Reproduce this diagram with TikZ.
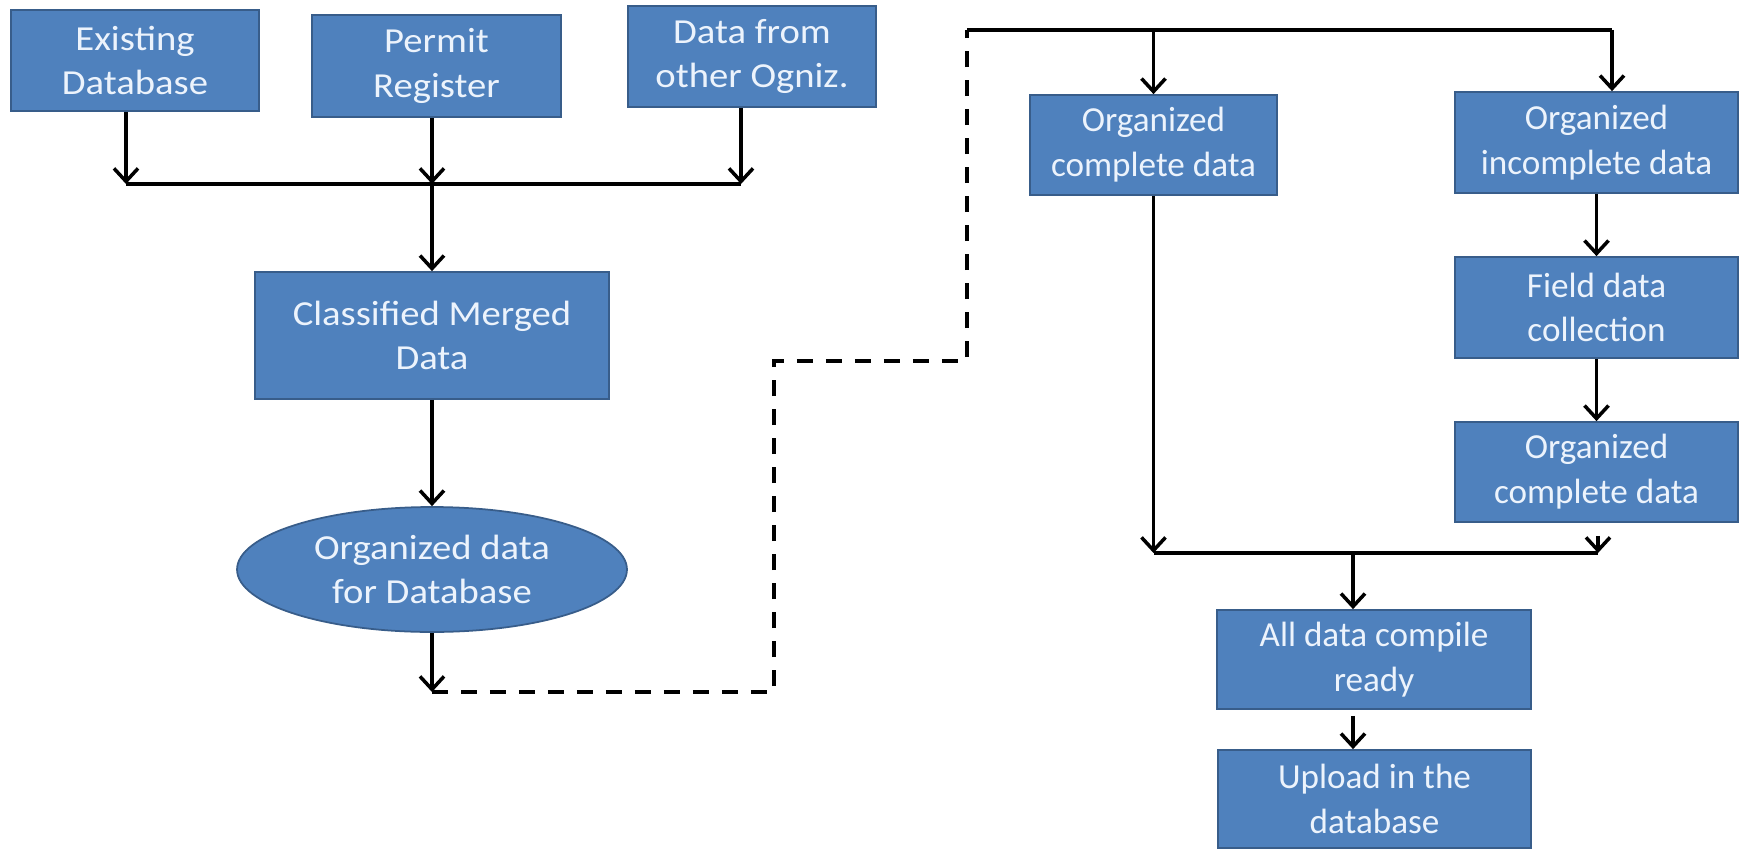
\documentclass[tikz,border=0pt]{standalone}
\usepackage{fontspec}
\setmainfont{Carlito}
\newfontfamily\widefont[FakeStretch=1.1]{Carlito}
\usetikzlibrary{shapes.geometric,arrows.meta}
\definecolor{boxblue}{RGB}{79,129,189}
\definecolor{boxedge}{RGB}{56,93,138}
\definecolor{boxtext}{RGB}{236,243,252}
\begin{document}
\begin{tikzpicture}
[x=0.02cm,y=-0.02cm,line width=2pt,
 block/.style={rectangle,fill=boxblue,draw=boxedge,line width=1pt,text=boxtext,
   align=center,inner sep=0pt,font=\fontsize{20}{25.5}\selectfont},
 wideblock/.style={block,font=\widefont\fontsize{20}{25.5}\selectfont},
 oval/.style={wideblock,ellipse},
 arr/.style={-{Straight Barb[length=2.6mm,width=4.8mm]}},
 dashline/.style={dash pattern=on 0.32cm off 0.26cm}]
\useasboundingbox (0,0) rectangle (1743,848);
% sources
\node[wideblock,minimum width=4.96cm,minimum height=2.02cm] (exist) at (135,60.5) {Existing\\Database};
\node[wideblock,minimum width=4.98cm,minimum height=2.04cm] (permit) at (436.5,66) {Permit\\Register};
\node[wideblock,minimum width=4.96cm,minimum height=2.02cm] (other) at (752,56.5) {Data from\\other Ogniz.};
\node[wideblock,minimum width=7.08cm,minimum height=2.54cm] (classif) at (432,335.5) {Classified Merged\\Data};
\node[oval,minimum width=7.8cm,minimum height=2.5cm] (orgdb) at (432,569.5) {Organized data\\for Database};
% right part
\node[block,minimum width=4.94cm,minimum height=2cm] (complete) at (1153.5,145) {Organized\\complete data};
\node[block,minimum width=5.66cm,minimum height=2.02cm] (incomplete) at (1596.5,142.5) {Organized\\incomplete data};
\node[block,minimum width=5.66cm,minimum height=2.02cm] (field) at (1596.5,307.5) {Field data\\collection};
\node[block,minimum width=5.66cm,minimum height=2cm] (complete2) at (1596.5,472) {Organized\\complete data};
\node[block,minimum width=6.28cm,minimum height=1.98cm] (compile) at (1374,659.5) {All data compile\\ready};
\node[block,minimum width=6.26cm,minimum height=1.96cm] (upload) at (1374.5,799) {Upload in the\\database};
% merge of sources
\coordinate (jExist) at (126,184);
\coordinate (jOther) at (741,184);
\coordinate (jMid) at (432,184);
\draw[arr] (exist.south -| jExist) -- (jExist);
\draw[arr] (permit.south -| jMid) -- (jMid);
\draw[arr] (other.south -| jOther) -- (jOther);
\draw (jExist) -- (jOther);
\draw[arr] (jMid) -- (classif);
\draw[arr] (classif) -- (orgdb);
% dashed link to the right part
\coordinate (dbEnd) at (432,692);
\coordinate (bendA) at (774,361);
\coordinate (topL) at (967,30);
\coordinate (topR) at (1612,30);
\draw[arr] (orgdb) -- (dbEnd);
\draw[dashline] (dbEnd) -| (bendA) -| (topL);
\draw (topL) -- (topR);
\draw[arr] (topL -| complete) -- (complete);
\draw[arr] (topR) -- (topR |- incomplete.north);
\draw[arr] (incomplete) -- (field);
\draw[arr] (field) -- (complete2);
% second merge
\coordinate (jLeft) at (1153.5,553);
\coordinate (jRight) at (1598,553);
\coordinate (jJoin) at (1353,553);
\draw[arr] (complete) -- (jLeft);
\draw[arr,shorten <=0.26cm] (complete2.south -| jRight) -- (jRight);
\draw (jLeft) -- (jRight);
\draw[arr] (jJoin) -- (jJoin |- compile.north);
\draw[arr,shorten <=0.12cm] (compile.south -| jJoin) -- (jJoin |- upload.north);
\end{tikzpicture}
\end{document}
